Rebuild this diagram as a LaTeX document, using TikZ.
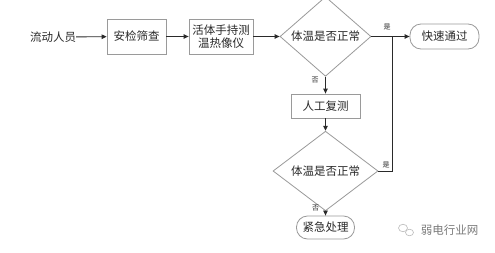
\documentclass[tikz,border=0pt]{standalone}
\usepackage{fontspec}
\setmainfont{Noto Sans CJK SC}
\usetikzlibrary{arrows.meta,shapes.geometric,calc}
\definecolor{txt}{HTML}{2A2A2A}
\definecolor{bord}{HTML}{9A9A9A}
\definecolor{ln}{HTML}{2A2A2A}
\begin{document}
\begin{tikzpicture}[x=1pt,y=-1pt,
  every node/.style={text=txt,font=\fontsize{11.5}{13}\selectfont,inner sep=0pt},
  procbox/.style={draw=bord,line width=0.8pt,minimum width=#1,rectangle},
  term/.style={draw=bord,line width=0.8pt,rounded corners=11pt},
  conn/.style={draw=ln,line width=0.9pt,-{Triangle[length=5pt,width=4.5pt]}},
  plain/.style={draw=ln,line width=0.9pt},
  lab/.style={font=\fontsize{7}{8}\selectfont,text=txt}]
\useasboundingbox (0,0) rectangle (495,252);
\fill[white] (0,0) rectangle (495,252);
\node (start) at (53,37) {流动人员};
\node[procbox=59pt,minimum height=35pt] (sec) at (136.5,36.5) {安检筛查};
\node[procbox=64pt,minimum height=35pt,align=center,font=\fontsize{11.5}{13.5}\selectfont] (therm) at (221,36.5) {活体手持测\\温热像仪};
\node[draw=bord,line width=0.8pt,shape=diamond,minimum width=91pt,minimum height=57pt,inner sep=0pt] (d1) at (325.5,36.5) {体温是否正常};
\node[term,minimum width=69pt,minimum height=25pt] (pass) at (444.5,36.5) {快速通过};
\node[procbox=69pt,minimum height=24pt] (recheck) at (325.5,106) {人工复测};
\node[draw=bord,line width=0.8pt,shape=diamond,minimum width=105pt,minimum height=56pt,inner sep=0pt] (d2) at (325.5,171) {体温是否正常};
\node[term,minimum width=58pt,minimum height=23pt] (emerg) at (325.5,227.5) {紧急处理};
\coordinate (j) at (392.7,36.5);
\coordinate (j2) at (392.7,171);
\path[conn] (start) -- (sec);
\path[conn] (sec) -- (therm);
\path[conn] (therm) -- (d1);
\path[conn] (d1) -- (pass);
\path[conn] (d1) -- (recheck);
\path[conn] (recheck) -- (d2);
\path[conn] (d2) -- (emerg);
\path[plain] (d2.east) -- (j2) -- (j);
\node[lab] at (387,27) {是};
\node[lab] at (315,80) {否};
\node[lab] at (386,165) {是};
\node[lab] at (315.5,208) {否};
% watermark
\node[draw=bord!70,line width=0.6pt,ellipse,minimum width=9pt,minimum height=7.5pt] (wa) at (403,228) {};
\node[draw=bord!70,line width=0.6pt,ellipse,minimum width=8pt,minimum height=6.5pt,fill=white] (wb) at (409.5,232.5) {};
\node[text=bord!80!black,font=\fontsize{11.5}{13}\selectfont] (wm) at (449.5,230) {弱电行业网};
\end{tikzpicture}
\end{document}
